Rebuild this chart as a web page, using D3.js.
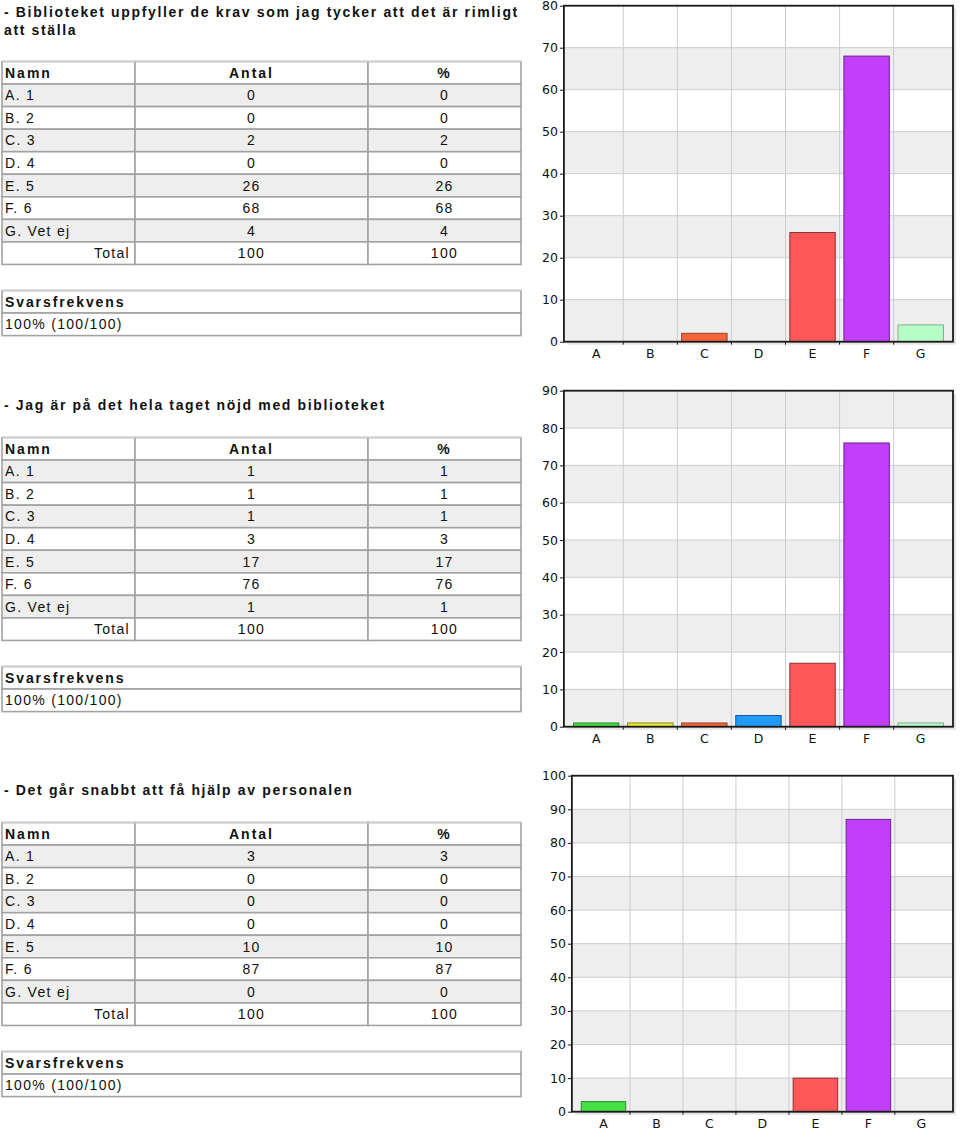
<!DOCTYPE html>
<html><head><meta charset="utf-8">
<script src="https://cdn.jsdelivr.net/npm/d3@7"></script>
<style>body{margin:0;background:#fff} svg{display:block}</style>
</head><body>
<svg id="c" width="960" height="1129"></svg>
<script>
// ---------- DATA ----------
const categories = ["A","B","C","D","E","F","G"];
const optionNames = ["A. 1","B. 2","C. 3","D. 4","E. 5","F. 6","G. Vet ej"];
const titles1 = ["- Biblioteket uppfyller de krav som jag tycker att det är rimligt", "att ställa"];
const titles2 = ["- Jag är på det hela taget nöjd med biblioteket"];
const titles3 = ["- Det går snabbt att få hjälp av personalen"];
const counts1 = [0,0,2,0,26,68,4];
const counts2 = [1,1,1,3,17,76,1];
const counts3 = [3,0,0,0,10,87,0];
const percents1 = [0,0,2,0,26,68,4];
const percents2 = [1,1,1,3,17,76,1];
const percents3 = [3,0,0,0,10,87,0];
const totals = [100,100,100];
const responseRates = ["100% (100/100)","100% (100/100)","100% (100/100)"];
const yMaxes = [80,90,100];
const headerLabels = ["Namn","Antal","%"];
const barFill =   ["#44e044","#e8e83a","#f6643a","#2299f5","#ff5757","#c23ff9","#b6fcc6"];
const barStroke = ["#2a8a2a","#8a8a1a","#9a4028","#1a5a96","#8a3232","#6a2290","#7fae8c"];

const sections = [
  {title: titles1, counts: counts1, pct: percents1, total: totals[0], rate: responseRates[0], yMax: yMaxes[0]},
  {title: titles2, counts: counts2, pct: percents2, total: totals[1], rate: responseRates[1], yMax: yMaxes[1]},
  {title: titles3, counts: counts3, pct: percents3, total: totals[2], rate: responseRates[2], yMax: yMaxes[2]}
];

// ---------- LAYOUT ----------
const svg = d3.select("#c");
const titleYs = [17, 410, 795];
const tableTops = [61.5, 437.5, 822.5];
const rowH = 22.55;
const colX = [2, 135, 368, 521];
const FONT = "'Liberation Sans', Arial, Helvetica, sans-serif";
const AXFONT = "'DejaVu Sans', Verdana, sans-serif";

sections.forEach((s, i) => {
  const g = svg.append("g");
  // Title
  s.title.forEach((t, k) => {
    g.append("text").attr("x", 4).attr("y", titleYs[i] + k * 18)
      .attr("font-family", FONT).attr("font-size", 14).attr("font-weight", "bold")
      .attr("letter-spacing", "1.65px").attr("fill", "#111").text(t);
  });

  // Table rows
  const top = tableTops[i];
  const rows = [{name: headerLabels[0], a: headerLabels[1], p: headerLabels[2], header: true}]
    .concat(optionNames.map((n, k) => ({name: n, a: s.counts[k], p: s.pct[k], shade: k % 2 === 0})))
    .concat([{name: "Total", a: s.total, p: s.total, total: true}]);

  rows.forEach((r, k) => {
    const y0 = top + k * rowH;
    for (let c = 0; c < 3; c++) {
      g.append("rect").attr("x", colX[c]).attr("y", y0)
        .attr("width", colX[c+1] - colX[c]).attr("height", rowH)
        .attr("fill", r.shade ? "#eeeeee" : "#ffffff")
        .attr("stroke", "#a2a2a2").attr("stroke-width", 1.6);
    }
    const ty = y0 + rowH / 2 + 5;
    const common = sel => sel.attr("font-family", FONT).attr("font-size", 14)
      .attr("letter-spacing", r.header ? "2px" : "1.3px").attr("fill", "#111")
      .attr("font-weight", r.header ? "bold" : "normal");
    common(g.append("text").attr("x", r.total ? 130 : 5).attr("y", ty)
      .attr("text-anchor", r.total ? "end" : "start").text(r.name));
    common(g.append("text").attr("x", (colX[1] + colX[2]) / 2).attr("y", ty)
      .attr("text-anchor", "middle").text(r.a));
    common(g.append("text").attr("x", (colX[2] + colX[3]) / 2).attr("y", ty)
      .attr("text-anchor", "middle").text(r.p));
  });
  g.append("line").attr("x1", colX[0]).attr("x2", colX[3]).attr("y1", top).attr("y2", top)
    .attr("stroke", "#cfcfcf").attr("stroke-width", 1.6);

  // Svarsfrekvens box
  const sTop = top + 229;
  [0, 1].forEach(k => {
    g.append("rect").attr("x", colX[0]).attr("y", sTop + k * rowH)
      .attr("width", colX[3] - colX[0]).attr("height", rowH)
      .attr("fill", "#fff").attr("stroke", "#a2a2a2").attr("stroke-width", 1.6);
  });
  g.append("line").attr("x1", colX[0]).attr("x2", colX[3]).attr("y1", sTop).attr("y2", sTop)
    .attr("stroke", "#cfcfcf").attr("stroke-width", 1.6);
  g.append("text").attr("x", 5).attr("y", sTop + rowH / 2 + 5)
    .attr("font-family", FONT).attr("font-size", 14).attr("font-weight", "bold")
    .attr("letter-spacing", "1.9px").attr("fill", "#111").text("Svarsfrekvens");
  g.append("text").attr("x", 5).attr("y", sTop + rowH * 1.5 + 5)
    .attr("font-family", FONT).attr("font-size", 14)
    .attr("letter-spacing", "1.3px").attr("fill", "#111").text(s.rate);

  // ---------- Chart ----------
  const bottom = 341.7 + 385 * i;
  const ptop = bottom - 336;
  const right = 953;
  const ticks = d3.range(0, s.yMax + 1, 10);
  const probe = svg.append("text").attr("font-family", AXFONT).attr("font-size", 12.5)
    .text(String(s.yMax));
  const tw = probe.node().getComputedTextLength();
  probe.remove();
  const left = 530 + 18 + tw;

  const y = d3.scaleLinear().domain([0, s.yMax]).range([bottom, ptop]);
  const m = (right - left) * 0.0135;
  const x = d3.scaleBand().domain(categories).range([left + m, right - m]).padding(0);
  const cg = svg.append("g");

  cg.append("rect").attr("x", left + 3).attr("y", ptop + 3).attr("width", right - left)
    .attr("height", bottom - ptop).attr("fill", "#e4e4e4");
  cg.append("rect").attr("x", left).attr("y", ptop).attr("width", right - left)
    .attr("height", bottom - ptop).attr("fill", "#fff");
  ticks.slice(0, -1).forEach((t, k) => {
    if (k % 2 === 0) {
      cg.append("rect").attr("x", left).attr("y", y(t + 10)).attr("width", right - left)
        .attr("height", y(t) - y(t + 10)).attr("fill", "#eeeeee");
    }
  });
  cg.selectAll(null).data(ticks).join("line")
    .attr("x1", left).attr("x2", right).attr("y1", d => y(d)).attr("y2", d => y(d))
    .attr("stroke", "#cccccc").attr("stroke-width", 1);
  const bounds = categories.slice(1).map(c => x(c));
  cg.selectAll(null).data(bounds).join("line")
    .attr("x1", d => d).attr("x2", d => d).attr("y1", ptop).attr("y2", bottom)
    .attr("stroke", "#cccccc").attr("stroke-width", 1);

  const bw = x.bandwidth() * 0.84;
  const data = categories.map((c, k) => ({c, v: s.counts[k], k})).filter(d => d.v > 0);
  cg.selectAll(null).data(data).join("rect")
    .attr("x", d => x(d.c) + (x.bandwidth() - bw) / 2)
    .attr("y", d => y(d.v))
    .attr("width", bw).attr("height", d => bottom - y(d.v))
    .attr("fill", d => barFill[d.k]).attr("stroke", d => barStroke[d.k]).attr("stroke-width", 1);

  cg.append("rect").attr("x", left).attr("y", ptop).attr("width", right - left)
    .attr("height", bottom - ptop).attr("fill", "none").attr("stroke", "#1a1a1a").attr("stroke-width", 1.8);

  const ya = d3.axisLeft(y).tickValues(ticks).tickSize(4).tickPadding(2);
  const yg = cg.append("g").attr("transform", `translate(${left},0)`).call(ya);
  yg.select(".domain").remove();
  yg.selectAll("line").attr("stroke", "#1a1a1a");
  yg.selectAll("text").attr("font-family", AXFONT).attr("font-size", 12.5).attr("fill", "#111");

  const xa = d3.axisBottom(x).tickSize(0).tickPadding(7);
  const xg = cg.append("g").attr("transform", `translate(0,${bottom})`).call(xa);
  xg.select(".domain").remove();
  xg.selectAll("text").attr("font-family", AXFONT).attr("font-size", 12.5).attr("fill", "#111");
  cg.selectAll(null).data(bounds).join("line")
    .attr("x1", d => d).attr("x2", d => d).attr("y1", bottom).attr("y2", bottom + 3)
    .attr("stroke", "#1a1a1a");
});
</script>
</body></html>
